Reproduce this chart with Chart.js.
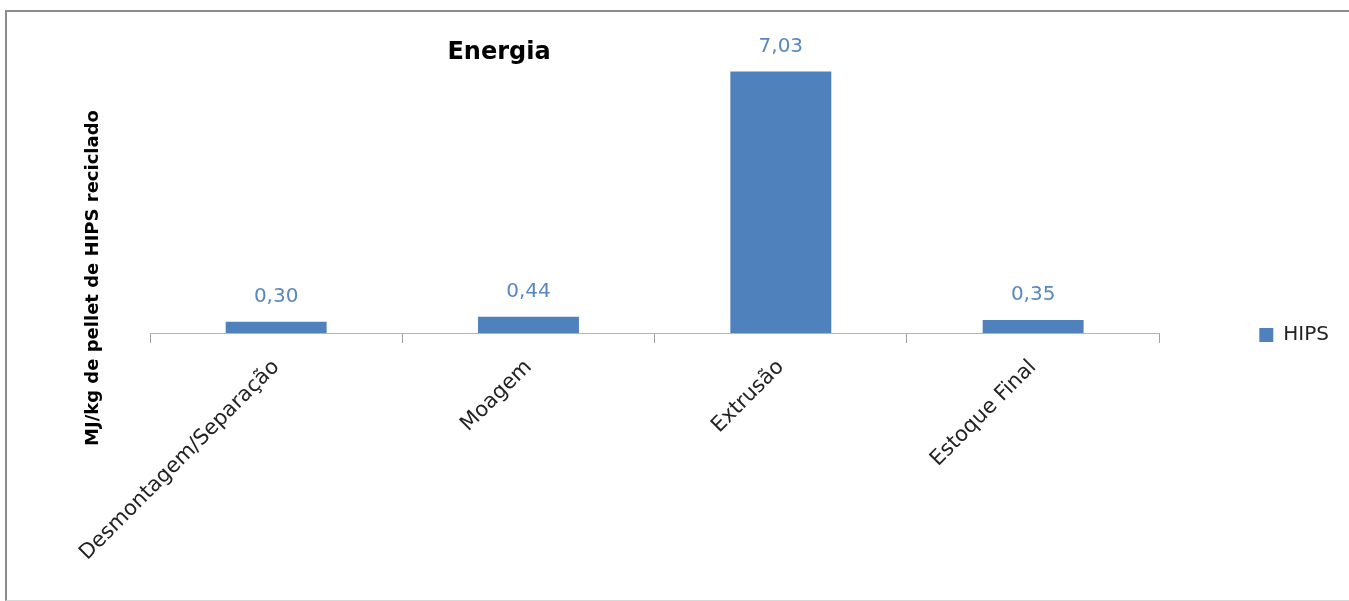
<!DOCTYPE html>
<html>
<head>
<meta charset="utf-8">
<script src="https://cdn.jsdelivr.net/npm/chart.js"></script>
<style>
    body { margin: 0; background: #fff; overflow: hidden; }
    #frame {
        position: absolute; left: 5px; top: 10px; width: 1400px; height: 588px;
        border-top: 2px solid #8c8c8c; border-left: 2px solid #8c8c8c; border-bottom: 1px solid #d8d8d8;
    }
    #energyChart { position: absolute; left: 0; top: 0; }
</style>
</head>
<body>
<div id="frame"></div>
<canvas id="energyChart" width="1349" height="601"></canvas>
<script>
const categories = ['Desmontagem/Separação', 'Moagem', 'Extrusão', 'Estoque Final'];
const hipsValues = [0.30, 0.44, 7.03, 0.35];
const seriesName = 'HIPS';
const chartTitle = 'Energia';
const yTitle = 'MJ/kg de pellet de HIPS reciclado';

const blue = '#4F81BD';

// value labels above bars, written with comma as in the original
const valueLabels = {
    id: 'valueLabels',
    afterDatasetsDraw(chart) {
        const ctx = chart.ctx;
        ctx.save();
        ctx.font = '20px "DejaVu Sans"';
        ctx.fillStyle = '#5B87C0';
        ctx.textAlign = 'center';
        ctx.textBaseline = 'middle';
        chart.getDatasetMeta(0).data.forEach((bar, i) => {
            const v = chart.data.datasets[0].data[i];
            ctx.fillText(v.toFixed(2).replace('.', ','), bar.x, bar.y - 25);
        });
        ctx.restore();
    }
};

// title and rotated y title sit where the original put them
const titles = {
    id: 'titles',
    afterDraw(chart) {
        const ctx = chart.ctx;
        ctx.save();
        ctx.fillStyle = '#000';
        ctx.textAlign = 'center';
        ctx.textBaseline = 'middle';
        ctx.font = 'bold 24px "DejaVu Sans"';
        ctx.fillText(chartTitle, 499, 53);
        ctx.translate(93, 278);
        ctx.rotate(-Math.PI / 2);
        ctx.font = 'bold 18px "DejaVu Sans"';
        ctx.fillText(yTitle, 0, 0);
        ctx.restore();
    }
};

const ctx = document.getElementById('energyChart').getContext('2d');
const myChart = new Chart(ctx, {
    type: 'bar',
    data: {
        labels: categories,
        datasets: [{
            label: seriesName,
            data: hipsValues,
            backgroundColor: blue,
            borderWidth: 0,
            categoryPercentage: 1,
            barPercentage: 0.4
        }]
    },
    options: {
        responsive: false,
        animation: false,
        layout: {
            padding: {left: 150, right: 10, top: 69, bottom: 0}
        },
        scales: {
            x: {
                grid: {
                    drawOnChartArea: false,
                    drawTicks: true,
                    tickLength: 10,
                    color: '#a0a0a0'
                },
                border: {color: '#b4b4b4'},
                ticks: {
                    color: '#222',
                    font: {family: 'DejaVu Sans', size: 21},
                    minRotation: 45,
                    maxRotation: 45,
                    autoSkip: false,
                    padding: 12
                },
                afterFit: (scale) => {
                    scale.height = 268;
                }
            },
            y: {
                display: false,
                min: 0,
                max: 7.1
            }
        },
        plugins: {
            legend: {
                position: 'right',
                labels: {
                    boxWidth: 14,
                    boxHeight: 14,
                    padding: 100,
                    color: '#222',
                    font: {family: 'DejaVu Sans', size: 20}
                }
            },
            tooltip: {enabled: false}
        }
    },
    plugins: [valueLabels, titles]
});
</script>
</body>
</html>
